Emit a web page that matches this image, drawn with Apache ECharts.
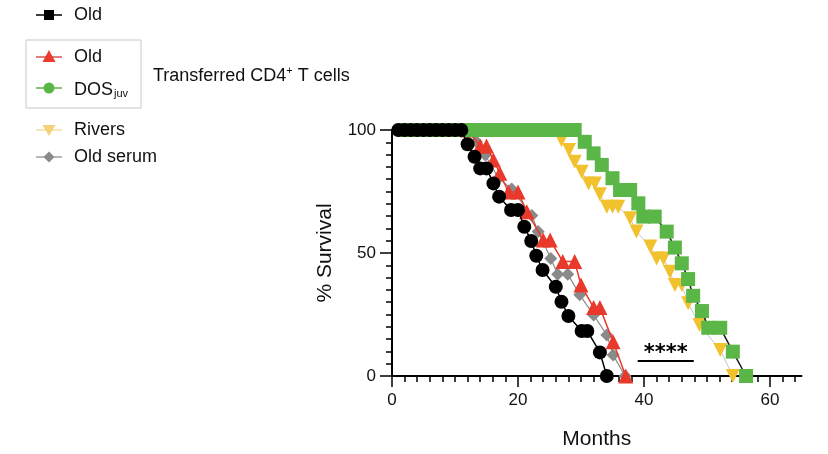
<!DOCTYPE html>
<html>
<head>
    <meta charset="UTF-8">
    <title>% Survival</title>
    <script src="https://cdn.jsdelivr.net/npm/echarts@6/dist/echarts.min.js"></script>
    <style>
        html, body { margin: 0; padding: 0; background: #fff; }
    </style>
</head>
<body>
<div id="main" style="width: 828px;height:454px;"></div>
<script type="text/javascript">
    // untransferred old (black circles)
    var oldMonths = [1, 2, 3, 4, 5, 6, 7, 8, 9, 10, 11, 12, 13.1, 14, 15, 16.1, 17, 18.9, 20, 21, 22.1, 22.9, 23.9, 26, 26.9, 28, 30.1, 31, 33, 34.1];
    var oldSurvival = [100, 100, 100, 100, 100, 100, 100, 100, 100, 100, 100, 94.2, 89.1, 84.4, 84.4, 78.3, 72.9, 67.5, 67.5, 60.7, 54.9, 48.9, 43.1, 36.3, 30.2, 24.4, 18.3, 18.3, 9.6, 0];

    // transferred old CD4+ (red triangles)
    var oldTMonths = [12, 14, 15, 16.1, 17.1, 18.5, 20, 21.4, 24, 25.1, 27.1, 29, 30, 32, 33, 35.1, 37.1];
    var oldTSurvival = [100, 93.5, 93.5, 87.8, 82.4, 74.8, 74.8, 66.8, 55.3, 55.3, 46.5, 46.5, 37, 27.8, 27.8, 13.9, 0];

    // transferred DOS juv (green squares)
    var dosMonths = [2, 3, 4, 5, 6, 7, 8, 9, 10, 11, 12, 13, 14, 15, 16, 17, 18, 19, 20, 21, 22, 23, 24, 25, 26, 27, 28, 29,
        30.6, 32, 33.3, 35, 36.2, 37.8, 39.1, 39.9, 41.7, 43.6, 44.9, 46, 47, 47.8, 49.2, 50.2, 52.1, 54.1, 56.2];
    var dosSurvival = [100, 100, 100, 100, 100, 100, 100, 100, 100, 100, 100, 100, 100, 100, 100, 100, 100, 100, 100, 100, 100, 100, 100, 100, 100, 100, 100, 100,
        95.2, 90.5, 85.8, 80.4, 75.6, 75.6, 70.2, 64.8, 64.8, 58.7, 52.2, 45.8, 39.4, 32.6, 26.4, 19.6, 19.6, 9.9, 0];

    // Rivers (yellow down triangles)
    var riversMonths = [25, 26, 26.9, 28.1, 29, 30.1, 31.2, 32.2, 33, 34.1, 35, 35.9, 37.8, 38.8, 41, 42, 43.1, 44.1, 44.9, 46, 47, 48.8, 52.1, 54.1];
    var riversSurvival = [100, 100, 95.9, 91.9, 87.1, 83, 78.3, 78.3, 73.9, 68.8, 68.8, 68.8, 64.1, 58.7, 52.6, 47.8, 47.8, 42.4, 37, 37, 29.6, 20.7, 10.6, 0];

    // old serum (gray diamonds)
    var serumMonths = [12, 13.4, 14.8, 16.9, 19, 22.2, 23.2, 25.2, 26.3, 27.9, 29.8, 32, 34.1, 35.1, 37];
    var serumSurvival = [100, 95.2, 89.8, 80.4, 76, 65.2, 58.7, 47.8, 41.4, 41.4, 33, 24.8, 16.7, 8.5, 0];

    // axis ticks
    var xLabels = [0, 20, 40, 60];
    var xMinor = [0, 2, 4, 6, 8, 10, 12, 14, 16, 18, 20, 22, 24, 26, 28, 30, 32, 34, 36, 38, 40, 42, 44, 46, 48, 50, 52, 54, 56, 58, 60, 62, 64];
    var yLabels = [0, 50, 100];
    var yMinor = [0, 5, 10, 15, 20, 25, 30, 35, 40, 45, 50, 55, 60, 65, 70, 75, 80, 85, 90, 95, 100];

    // significance bar
    var sigFrom = [39, 6.1];
    var sigTo = [47.9, 6.1];

    var FONT = '"Liberation Sans", Arial, Helvetica, sans-serif';

    function pairs(xs, ys) {
        return xs.map(function (x, i) { return [x, ys[i]]; });
    }

    var myChart = echarts.init(document.getElementById('main'));

    // legend drawn by hand: the markers differ from the plotted ones
    function legendRow(y, lineColor, marker, label) {
        return [
            {type: 'line', shape: {x1: 36, y1: y, x2: 62, y2: y}, style: {stroke: lineColor, lineWidth: 1.5}},
            marker,
            {type: 'text', x: 74, y: y, style: label}
        ];
    }
    var graphics = [].concat(
        legendRow(15, '#000', {type: 'rect', shape: {x: 44, y: 10, width: 10, height: 10}, style: {fill: '#000'}},
            {text: 'Old', font: '18px ' + FONT, fill: '#111', verticalAlign: 'middle'}),
        legendRow(57, '#d9534f', {type: 'polygon', shape: {points: [[49, 50], [55.5, 62], [42.5, 62]]}, style: {fill: '#ea3b2c'}},
            {text: 'Old', font: '18px ' + FONT, fill: '#111', verticalAlign: 'middle'}),
        legendRow(88, '#5fb24c', {type: 'circle', shape: {cx: 49, cy: 88, r: 5.5}, style: {fill: '#5cb645'}},
            {
                text: '{a|DOS}{b|juv}', verticalAlign: 'middle', fill: '#111',
                rich: {
                    a: {fontSize: 18, fontFamily: FONT, fill: '#111', lineHeight: 22, verticalAlign: 'bottom'},
                    b: {fontSize: 11, fontFamily: FONT, fill: '#111', lineHeight: 22, verticalAlign: 'bottom', padding: [0, 0, 0, 1]}
                }
            }),
        legendRow(130, '#f6dca0', {type: 'polygon', shape: {points: [[42.5, 125], [55.5, 125], [49, 136]]}, style: {fill: '#f4d27a'}},
            {text: 'Rivers', font: '18px ' + FONT, fill: '#111', verticalAlign: 'middle'}),
        legendRow(157, '#a0a0a0', {type: 'polygon', shape: {points: [[49, 151.5], [54.5, 157], [49, 162.5], [43.5, 157]]}, style: {fill: '#8a8a8a'}},
            {text: 'Old serum', font: '18px ' + FONT, fill: '#111', verticalAlign: 'middle'}),
        [
            {type: 'rect', shape: {x: 26, y: 40, width: 115, height: 68}, style: {fill: 'none', stroke: '#c8c8c8', lineWidth: 1}},
            {
                type: 'text', x: 153, y: 74,
                style: {
                    text: '{a|Transferred CD4}{s|+}{a| T cells}', verticalAlign: 'middle', fill: '#111',
                    rich: {
                        a: {fontSize: 18, fontFamily: FONT, fill: '#111', lineHeight: 22, verticalAlign: 'bottom'},
                        s: {fontSize: 11, fontFamily: FONT, fill: '#111', lineHeight: 22, verticalAlign: 'top', padding: [2, 0, 0, 0]}
                    }
                }
            }
        ]
    );

    var axisCommon = {
        type: 'value',
        min: 0,
        splitLine: {show: false}
    };

    var option = {
        animation: false,
        grid: {left: 392, right: 26.5, top: 130, bottom: 78, outerBoundsMode: 'none'},
        graphic: graphics,
        xAxis: [
            Object.assign({}, axisCommon, {
                max: 65,
                name: 'Months',
                nameLocation: 'middle',
                nameGap: 53,
                nameTextStyle: {fontSize: 21, fontFamily: FONT, color: '#111'},
                axisLine: {lineStyle: {color: '#000', width: 2}},
                axisTick: {length: 11, lineStyle: {color: '#000', width: 1.5}, customValues: xLabels},
                axisLabel: {fontSize: 17, fontFamily: FONT, color: '#111', margin: 16, customValues: xLabels}
            }),
            Object.assign({}, axisCommon, {
                max: 65,
                position: 'bottom',
                axisLine: {show: false},
                axisTick: {length: 6, lineStyle: {color: '#000', width: 1.5}, customValues: xMinor},
                axisLabel: {show: false}
            })
        ],
        yAxis: [
            Object.assign({}, axisCommon, {
                max: 100,
                name: '% Survival',
                nameLocation: 'middle',
                nameGap: 56,
                nameTextStyle: {fontSize: 21, fontFamily: FONT, color: '#111'},
                axisLine: {lineStyle: {color: '#000', width: 2}},
                axisTick: {length: 12, lineStyle: {color: '#000', width: 1.5}, customValues: yLabels},
                axisLabel: {fontSize: 17, fontFamily: FONT, color: '#111', margin: 16, customValues: yLabels}
            }),
            Object.assign({}, axisCommon, {
                max: 100,
                position: 'left',
                axisLine: {show: false},
                axisTick: {length: 6, lineStyle: {color: '#000', width: 1.5}, customValues: yMinor},
                axisLabel: {show: false}
            })
        ],
        series: [
            {
                name: 'Rivers', type: 'line', z: 2,
                data: pairs(riversMonths, riversSurvival),
                symbol: 'triangle', symbolRotate: 180, symbolSize: 14,
                itemStyle: {color: '#f2c12e'},
                lineStyle: {color: '#c4c4c4', width: 1}
            },
            {
                name: 'Old serum', type: 'line', z: 3,
                data: pairs(serumMonths, serumSurvival),
                symbol: 'diamond', symbolSize: 13,
                itemStyle: {color: '#8a8a8a'},
                lineStyle: {color: '#8a8a8a', width: 1.2}
            },
            {
                name: 'Old (transferred)', type: 'line', z: 4,
                data: pairs(oldTMonths, oldTSurvival),
                symbol: 'triangle', symbolSize: 15,
                itemStyle: {color: '#e8392b'},
                lineStyle: {color: '#e8392b', width: 1.5}
            },
            {
                name: 'DOSjuv', type: 'line', z: 5,
                data: pairs(dosMonths, dosSurvival),
                symbol: 'rect', symbolSize: 14,
                itemStyle: {color: '#5ab646'},
                lineStyle: {color: '#1a1a1a', width: 1.5}
            },
            {
                name: 'Old', type: 'line', z: 6,
                data: pairs(oldMonths, oldSurvival),
                symbol: 'circle', symbolSize: 14,
                itemStyle: {color: '#000'},
                lineStyle: {color: '#000', width: 1.5},
                markLine: {
                    silent: true,
                    symbol: 'none',
                    lineStyle: {color: '#000', width: 2, type: 'solid'},
                    label: {
                        show: true, position: 'middle', formatter: '****',
                        fontSize: 21, fontWeight: 'bold', fontFamily: '"DejaVu Sans", sans-serif', color: '#000', distance: -3
                    },
                    data: [[{coord: sigFrom}, {coord: sigTo}]]
                }
            }
        ]
    };

    myChart.setOption(option);
</script>
</body>
</html>
